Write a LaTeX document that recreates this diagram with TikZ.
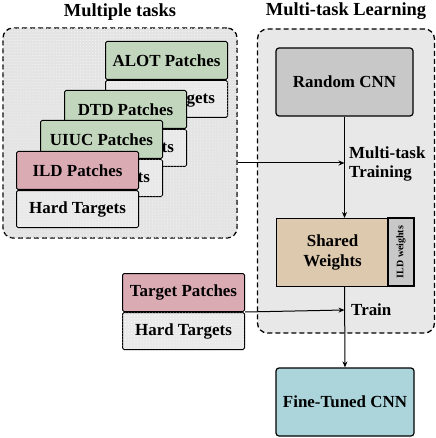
\documentclass[tikz,border=0pt]{standalone}
\usepackage{fontspec}
\setmainfont{Liberation Serif}
\usetikzlibrary{arrows.meta,patterns}
\definecolor{hdrgreen}{HTML}{C2D6BD}
\definecolor{hdrpink}{HTML}{DBABB4}
\definecolor{bodygray}{HTML}{E9E9E9}
\definecolor{regiongray}{HTML}{E4E4E4}
\definecolor{rightgray}{HTML}{E8E8E8}
\definecolor{cnngray}{HTML}{C8C8C8}
\definecolor{sharedtan}{HTML}{DCC9AE}
\definecolor{finecyan}{HTML}{ABD5DB}
\tikzset{
  region/.style={draw, dash pattern=on 5bp off 3bp, line width=1.3bp, rounded corners=10bp, inner sep=0},
  cardhead/.style={draw, line width=1bp, minimum width=122bp, minimum height=38bp, anchor=north west, inner sep=0, rounded corners=1.5bp},
  cardbody/.style={draw, line width=1bp, fill=bodygray, postaction={pattern=dots, pattern color=white!60!bodygray}, minimum width=122bp, minimum height=37bp, anchor=north, inner sep=0, rounded corners=1.5bp},
  cnnbox/.style={draw, line width=1.2bp, rounded corners=3bp, inner sep=0},
  arr/.style={-{Stealth[length=6bp,width=5bp]}, line width=1bp},
  ttl/.style={font=\fontsize{18.5}{21}\selectfont\bfseries},
}
\begin{document}
\begin{tikzpicture}[x=1bp,y=-1bp, font=\fontsize{17}{20}\selectfont\bfseries]
\useasboundingbox (0,0) rectangle (436,438);
% regions
\node[region, fill=regiongray, postaction={pattern=dots, pattern color=white!70!regiongray}, minimum width=234bp, minimum height=210bp] (lregion) at (120,133) {};
\node[region, fill=rightgray, minimum width=177bp, minimum height=304bp] (rregion) at (346,181) {};
\node[ttl] (ltitle) at (120,12) {Multiple tasks};
\node[ttl] (rtitle) at (346,11) {Multi-task Learning};
% cards
\node[cardhead, fill=hdrgreen] (alothead) at (105,41) {ALOT Patches};
\node[cardbody] (alotbody) at (alothead.south) {Hard Targets};
\node[cardhead, fill=hdrgreen] (dtdhead) at (64,90) {DTD Patches};
\node[cardbody] (dtdbody) at (dtdhead.south) {Hard Targets};
\node[cardhead, fill=hdrgreen] (uiuchead) at (40,120) {UIUC Patches};
\node[cardbody] (uiucbody) at (uiuchead.south) {Hard Targets};
\node[cardhead, fill=hdrpink] (ildhead) at (16,151) {ILD Patches};
\node[cardbody] (ildbody) at (ildhead.south) {Hard Targets};
\node[cardhead, fill=hdrpink] (thead) at (122,273) {Target Patches};
\node[cardbody] (tbody) at (thead.south) {Hard Targets};
% CNN boxes
\node[cnnbox, fill=cnngray, minimum width=137bp, minimum height=68bp] (rcnn) at (344.5,82) {Random CNN};
\node[cnnbox, fill=sharedtan, minimum width=112bp, minimum height=68bp, anchor=north west, align=center, rounded corners=0pt] (shared) at (276,218) {Shared\\Weights};
\node[cnnbox, fill=cnngray, minimum width=68bp, minimum height=26bp, rotate=90, rounded corners=0pt, font=\fontsize{10}{11}\selectfont\bfseries] (ildw) at (401,252) {ILD weights};
\node[cnnbox, fill=finecyan, minimum width=138bp, minimum height=68bp] (fine) at (345,402) {Fine-Tuned CNN};
% labels
\node[anchor=west, align=left, inner sep=0] (mtlabel) at (349,164) {Multi-task\\Training};
\node[anchor=west, inner sep=0] (trlabel) at (351,310) {Train};
% connectors
\coordinate (mtin) at (344.5,163);
\coordinate (trin) at (344.5,310);
\draw[arr] (rcnn.south) -- (rcnn.south |- shared.north);
\draw[arr] (rcnn.south |- shared.south) -- (fine.north);
\draw[arr] (lregion.east |- mtin) -- (mtin);
\draw[arr] (thead.south east) -- (trin);
\end{tikzpicture}
\end{document}
